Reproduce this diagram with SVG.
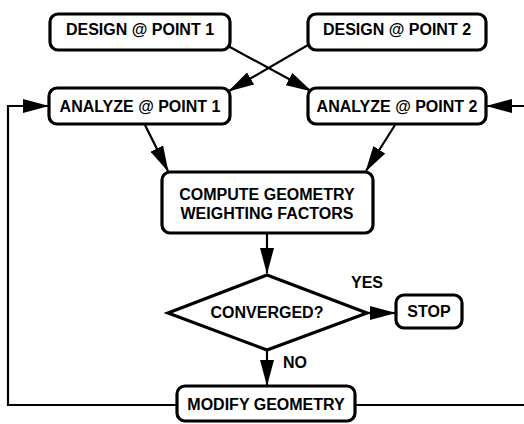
<svg xmlns="http://www.w3.org/2000/svg" width="524" height="424" viewBox="0 0 524 424">
<style>
.box{fill:#fff;stroke:#000;stroke-width:3.2}
.t{font-family:"Liberation Sans",Arial,sans-serif;font-weight:bold;font-size:16px;fill:#000;text-anchor:middle}
.l{font-family:"Liberation Sans",Arial,sans-serif;font-weight:bold;font-size:16px;fill:#000}
.c{fill:none;stroke:#000;stroke-width:2.2}
</style>
<defs>
<marker id="ah" markerUnits="userSpaceOnUse" markerWidth="26" markerHeight="14" refX="25" refY="7" orient="auto" viewBox="0 0 26 14">
<path d="M0,0 L26,7 L0,14 Z" fill="#000"/>
</marker>
</defs>
<rect width="524" height="424" fill="#fff"/>
<g id="connectors">
<line class="c" x1="228" y1="46" x2="311" y2="91" marker-end="url(#ah)"/>
<line class="c" x1="308" y1="45" x2="229" y2="91" marker-end="url(#ah)"/>
<polyline class="c" points="177,405 8,405 8,106 48,106" marker-end="url(#ah)"/>
<polyline class="c" points="355,405 524,405"/>
<line class="c" x1="524" y1="106" x2="487" y2="106" marker-end="url(#ah)"/>
<line class="c" x1="145" y1="125" x2="168" y2="171" marker-end="url(#ah)"/>
<line class="c" x1="395" y1="125" x2="366" y2="171" marker-end="url(#ah)"/>
<line class="c" x1="267" y1="234" x2="267" y2="273" marker-end="url(#ah)"/>
<line class="c" x1="368" y1="313" x2="395" y2="313" marker-end="url(#ah)"/>
<line class="c" x1="267" y1="351" x2="267" y2="385" marker-end="url(#ah)"/>
<text class="l" x="351" y="288">YES</text>
<text class="l" x="283" y="368">NO</text>
</g>
<g id="design1"><rect class="box" x="50" y="14" width="180" height="36" rx="8"/><text class="t" x="140" y="35">DESIGN @ POINT 1</text></g>
<g id="design2"><rect class="box" x="308" y="14" width="178" height="36" rx="8"/><text class="t" x="397" y="35">DESIGN @ POINT 2</text></g>
<g id="analyze1"><rect class="box" x="49" y="88" width="181" height="36" rx="8"/><text class="t" x="140" y="112">ANALYZE @ POINT 1</text></g>
<g id="analyze2"><rect class="box" x="308" y="88" width="178" height="36" rx="8"/><text class="t" x="397" y="112">ANALYZE @ POINT 2</text></g>
<g id="compute"><rect class="box" x="162" y="172" width="211" height="61" rx="8"/><text class="t" x="267" y="200">COMPUTE GEOMETRY</text><text class="t" x="267" y="219">WEIGHTING FACTORS</text></g>
<g id="converged"><polygon class="box" points="267,275 367,313 267,350 168,313"/><text class="t" x="267" y="318">CONVERGED?</text></g>
<g id="stop"><rect class="box" x="396" y="295" width="66" height="33" rx="8"/><text class="t" x="429" y="317">STOP</text></g>
<g id="modify"><rect class="box" x="177" y="386" width="178" height="35" rx="8"/><text class="t" x="266" y="410">MODIFY GEOMETRY</text></g>
</svg>
